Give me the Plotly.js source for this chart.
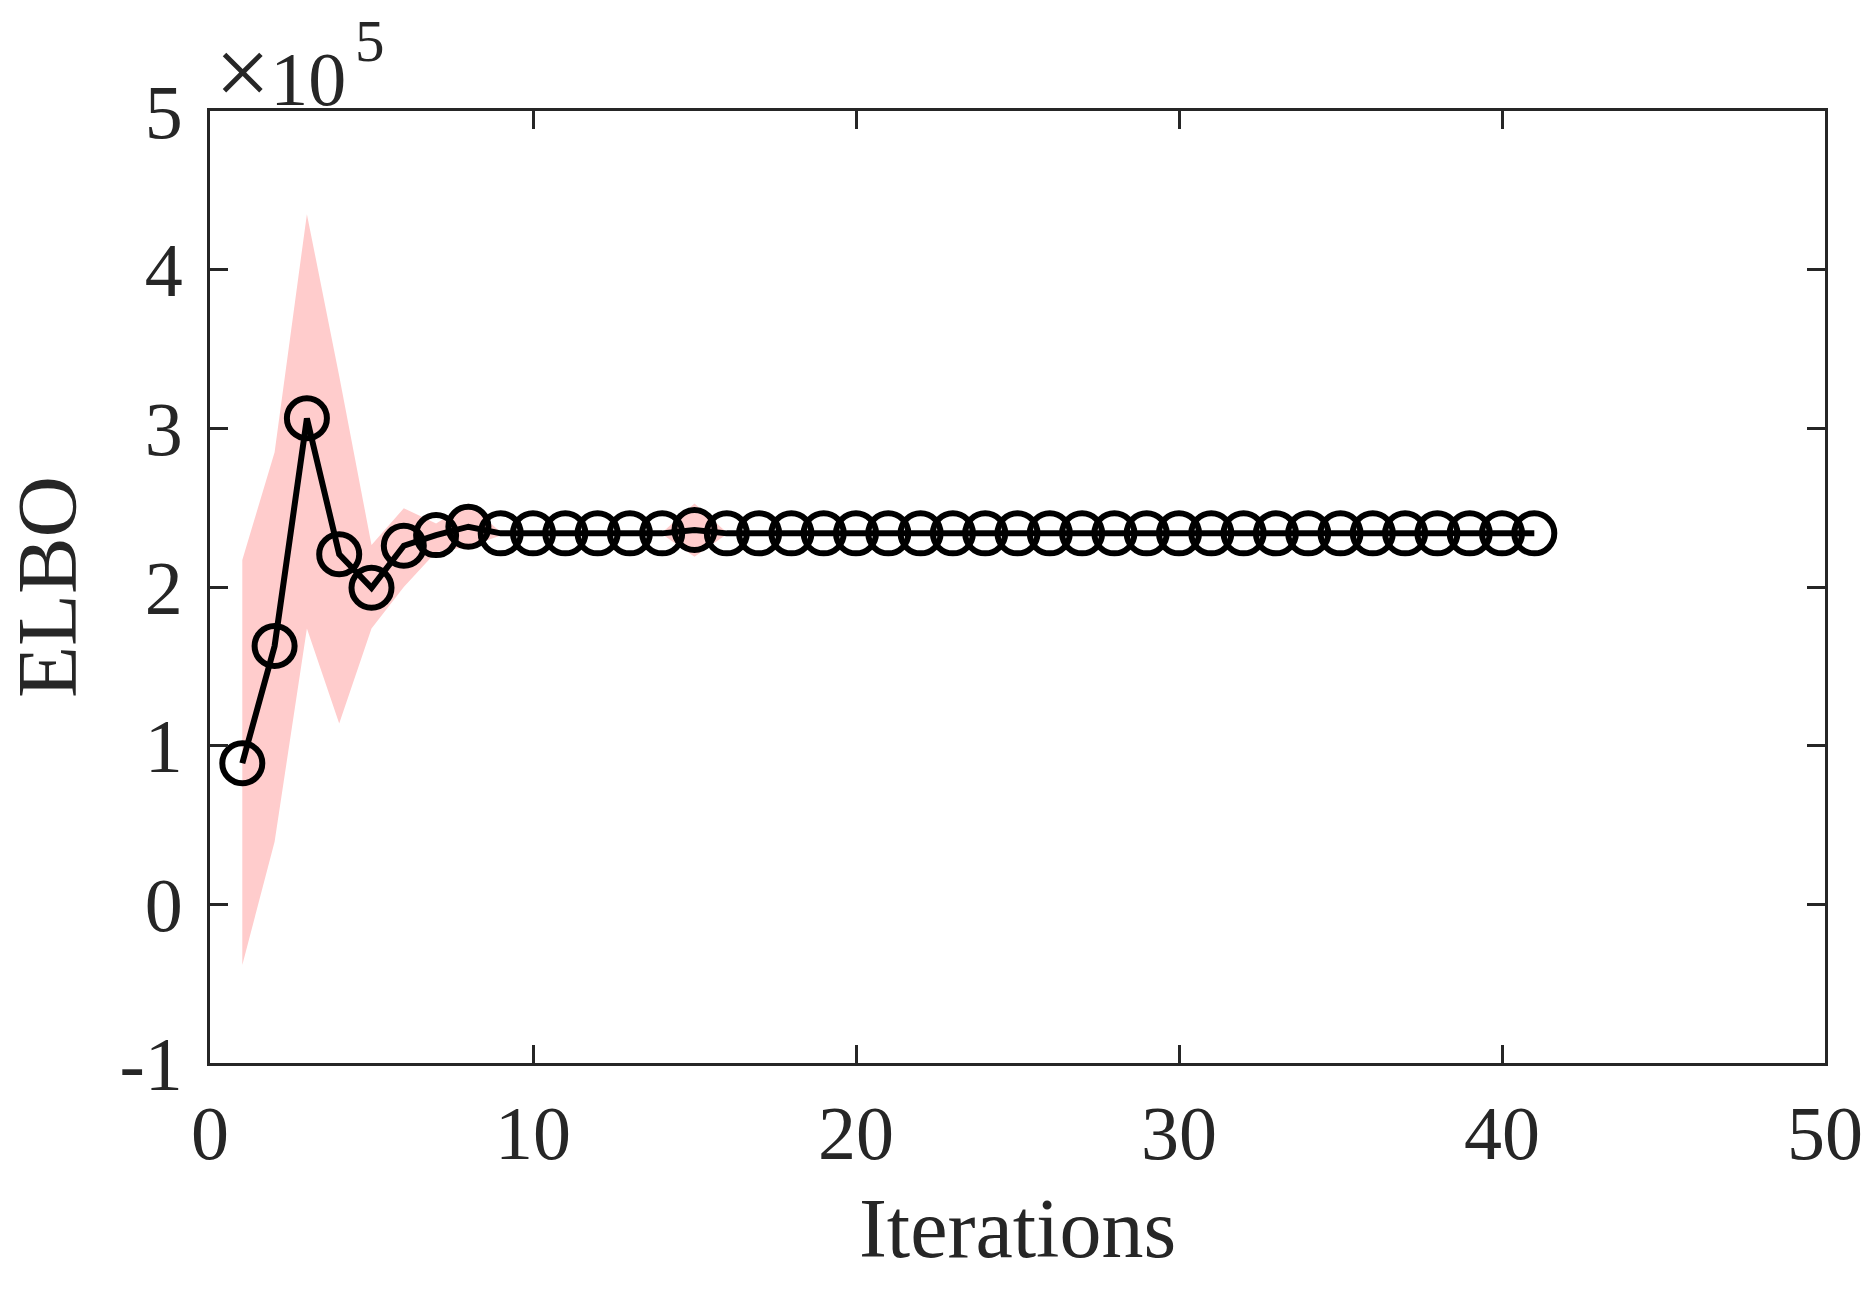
<!DOCTYPE html>
<html>
<head>
<meta charset="utf-8">
<script src="https://cdn.plot.ly/plotly-3.0.1.min.js"></script>
<style>html,body{margin:0;padding:0;background:#fff;}#chart{width:1876px;height:1290px;}</style>
</head>
<body>
<div id="chart"></div>
<script>
// Iterations 1..41
var iterations = [1,2,3,4,5,6,7,8,9,10,11,12,13,14,15,16,17,18,19,20,21,22,23,24,25,26,27,28,29,30,31,32,33,34,35,36,37,38,39,40,41];
// ELBO mean (in units of 1e5)
var elboMean = [0.889,1.628,3.063,2.206,1.995,2.26,2.327,2.38,2.338,2.338,2.338,2.338,2.338,2.338,2.359,2.338,2.338,2.338,2.338,2.338,2.338,2.338,2.338,2.338,2.338,2.338,2.338,2.338,2.338,2.338,2.338,2.338,2.338,2.338,2.338,2.338,2.338,2.338,2.338,2.338,2.338];
// Upper / lower bound of the shaded band (units of 1e5)
var elboUpper = [2.17,2.85,4.35,3.33,2.265,2.496,2.40,2.527,2.345,2.343,2.343,2.343,2.343,2.343,2.527,2.343,2.343,2.343,2.343,2.343,2.343,2.343,2.343,2.343,2.343,2.343,2.343,2.343,2.343,2.343,2.343,2.343,2.343,2.343,2.343,2.343,2.343,2.343,2.343,2.343,2.343];
var elboLower = [-0.382,0.395,1.739,1.14,1.739,2.0,2.22,2.254,2.325,2.333,2.333,2.333,2.333,2.333,2.19,2.333,2.333,2.333,2.333,2.333,2.333,2.333,2.333,2.333,2.333,2.333,2.333,2.333,2.333,2.333,2.333,2.333,2.333,2.333,2.333,2.333,2.333,2.333,2.333,2.333,2.333];
var xTicks = [0,10,20,30,40,50];
var yTicks = [-1,0,1,2,3,4,5];
var yTickText = ['-1','0','1','2','3','4','5'];
var exponentBase = '<span style="font-size:98px">\u00d7</span>10';
var exponentPower = '5';

var bandX = iterations.concat(iterations.slice().reverse());
var bandY = elboUpper.concat(elboLower.slice().reverse());

var axisColor = '#262626';
var fontFam = '"Liberation Serif", "Times New Roman", serif';

var traces = [
  {x: bandX, y: bandY, type: 'scatter', mode: 'lines', fill: 'toself',
   fillcolor: 'rgb(255,204,204)', line: {width: 0, color: 'rgba(0,0,0,0)'}, hoverinfo: 'skip', showlegend: false},
  {x: iterations, y: elboMean, type: 'scatter', mode: 'lines+markers',
   line: {color: '#000000', width: 6},
   marker: {symbol: 'circle-open', size: 40, color: '#000000', line: {width: 6, color: '#000000'}},
   showlegend: false}
];

var layout = {
  width: 1876, height: 1290,
  margin: {l: 210, r: 51, t: 111, b: 227, pad: 0},
  paper_bgcolor: '#ffffff', plot_bgcolor: '#ffffff',
  font: {family: fontFam, color: axisColor, size: 76},
  showlegend: false,
  xaxis: {
    range: [0, 50], tickvals: xTicks, ticktext: xTicks.map(String),
    showgrid: false, zeroline: false,
    showline: true, linecolor: axisColor, linewidth: 3, mirror: 'ticks',
    ticks: 'inside', ticklen: 18, tickwidth: 3, tickcolor: axisColor,
    tickfont: {family: fontFam, size: 76, color: axisColor},
    ticklabelstandoff: 2,
    title: {text: 'Iterations', font: {family: fontFam, size: 84, color: axisColor}, standoff: 24}
  },
  yaxis: {
    range: [-1, 5], tickvals: yTicks, ticktext: yTickText,
    showgrid: false, zeroline: false,
    showline: true, linecolor: axisColor, linewidth: 3, mirror: 'ticks',
    ticks: 'inside', ticklen: 18, tickwidth: 3, tickcolor: axisColor,
    tickfont: {family: fontFam, size: 76, color: axisColor},
    ticklabelstandoff: 9,
    title: {text: 'ELBO', font: {family: fontFam, size: 85, color: axisColor}, standoff: 30}
  },
  annotations: [
    {text: exponentBase, xref: 'paper', yref: 'paper', x: 0.002, y: 0.982, xanchor: 'left', yanchor: 'bottom',
     showarrow: false, font: {family: fontFam, size: 76, color: axisColor}},
    {text: exponentPower, xref: 'paper', yref: 'paper', x: 0.0885, y: 1.037, xanchor: 'left', yanchor: 'bottom',
     showarrow: false, font: {family: fontFam, size: 59, color: axisColor}}
  ]
};

Plotly.newPlot('chart', traces, layout, {displayModeBar: false, staticPlot: true});
</script>
</body>
</html>
